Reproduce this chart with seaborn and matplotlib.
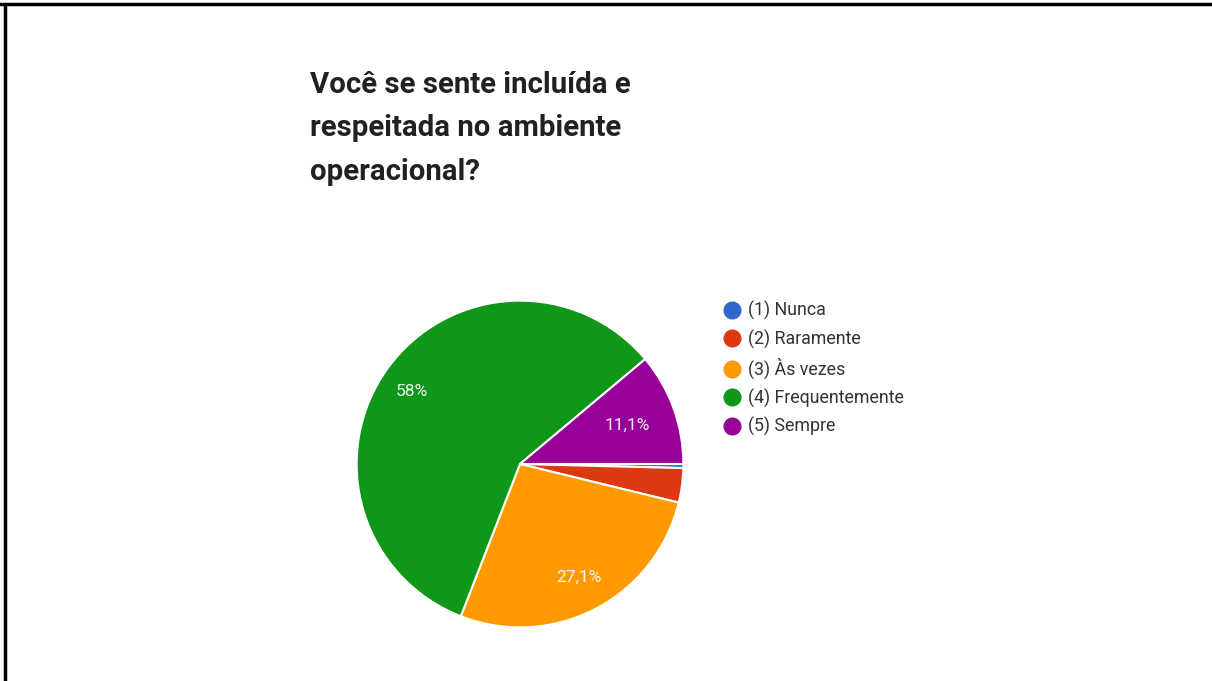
import matplotlib
matplotlib.use("Agg")
import matplotlib.pyplot as plt
from matplotlib.lines import Line2D
import numpy as np
import seaborn as sns

# Survey answers (share of respondents, %)
categories = ["(1) Nunca", "(2) Raramente", "(3) Às vezes", "(4) Frequentemente", "(5) Sempre"]
shares = [0.4, 3.4, 27.1, 58.0, 11.1]
slice_colors = ["#3366CC", "#DC3912", "#FF9900", "#109618", "#990099"]

question = "Você se sente incluída e\nrespeitada no ambiente\noperacional?"

sns.set_theme(style="white")
plt.rcParams["font.family"] = ["Roboto", "DejaVu Sans"]

W, H = 1212, 681
fig = plt.figure(figsize=(W / 100, H / 100), dpi=100)
fig.patch.set_facecolor("white")

# pie axes: centre and radius in pixels
cx, cy, r = 520, 464, 165
ax = fig.add_axes([(cx - r) / W, (H - cy - r) / H, 2 * r / W, 2 * r / H])
palette = sns.color_palette(slice_colors)


def pct_label(p):
    if p < 5:
        return ""
    s = f"{p:.1f}".replace(".", ",")
    if s.endswith(",0"):
        s = s[:-2]
    return s + "%"


wedges, texts, autotexts = ax.pie(
    shares,
    colors=palette,
    startangle=0,
    counterclock=False,
    autopct=pct_label,
    pctdistance=0.77,
    wedgeprops=dict(edgecolor="white", linewidth=1.5),
    textprops=dict(color="white", fontsize=12.5, alpha=0.92),
    radius=1.0,
)
# label distance from the centre, per slice
label_dist = [0.77, 0.77, 0.78, 0.80, 0.70]
label_shift = [0, 0, 0, 1.7, 0]
for w, t, d, s in zip(wedges, autotexts, label_dist, label_shift):
    mid = np.deg2rad((w.theta1 + w.theta2) / 2 + s)
    t.set_position((d * np.cos(mid), d * np.sin(mid)))

ax.set_xlim(-1.01, 1.01)
ax.set_ylim(-1.01, 1.01)
ax.set_aspect("equal")
ax.axis("off")

# question title
fig.text(310 / W, 1 - 71 / H, question, ha="left", va="top",
         fontsize=21.2, fontweight="bold", color="#202124", linespacing=1.7)

# legend with round markers
handles = [Line2D([0], [0], marker="o", linestyle="", markersize=12,
                  markerfacecolor=c, markeredgecolor=c) for c in palette]
fig.legend(handles, categories, loc="upper left",
           bbox_to_anchor=(714 / W, 1 - 294 / H), frameon=False,
           fontsize=12.8, labelspacing=0.52, handletextpad=0.3,
           handlelength=1.2, labelcolor="#333333", borderaxespad=0)

# page frame lines (top and left edges)
fig.add_artist(Line2D([0, 1], [1 - 4 / H, 1 - 4 / H], color="black", lw=2.5,
                      transform=fig.transFigure))
fig.add_artist(Line2D([4.5 / W, 4.5 / W], [0, 1 - 4 / H], color="black", lw=2.5,
                      transform=fig.transFigure))

fig.savefig("out.png", dpi=100, facecolor="white")
